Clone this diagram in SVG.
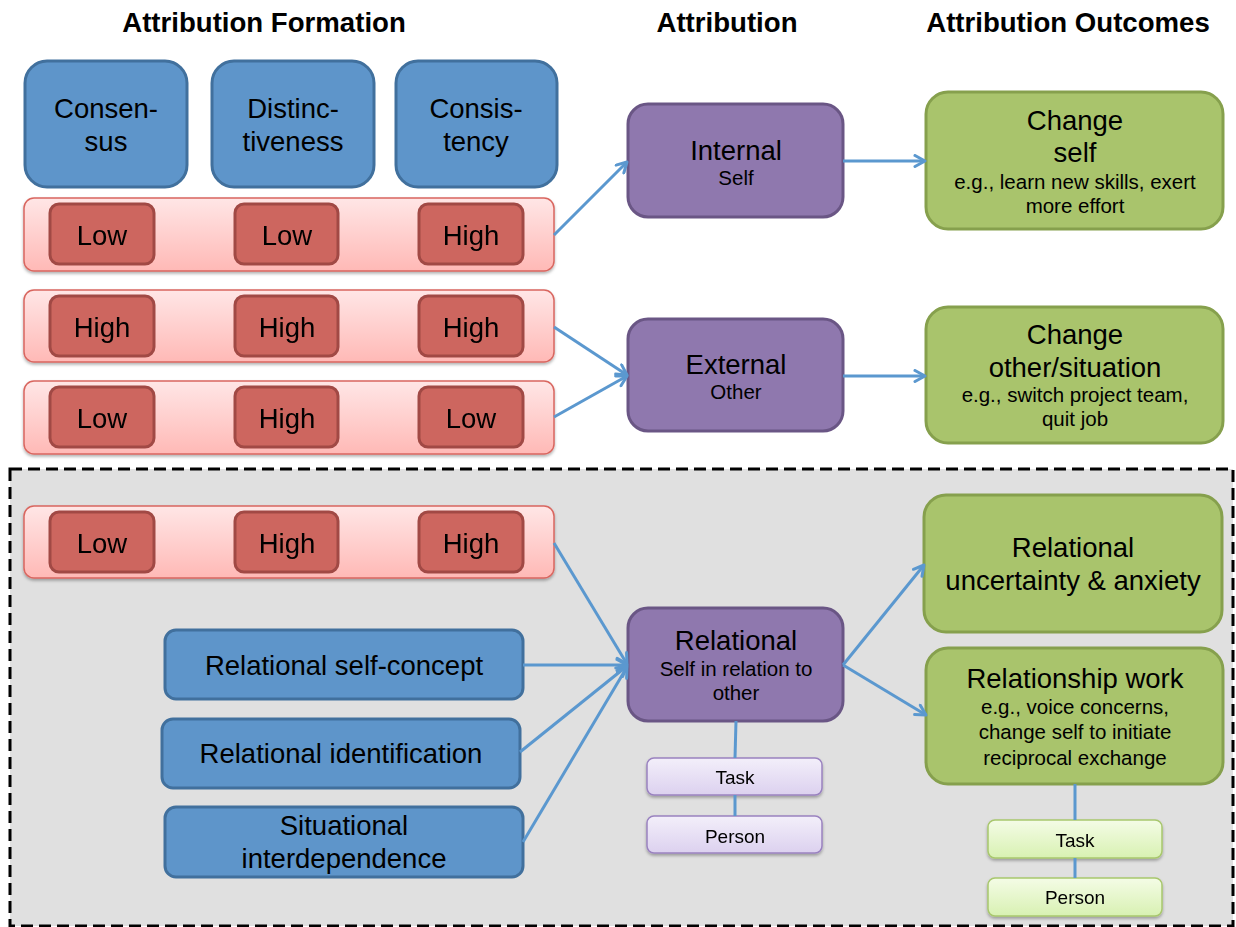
<svg xmlns="http://www.w3.org/2000/svg" width="1236" height="927" viewBox="0 0 1236 927">
<defs>
<linearGradient id="gPink" x1="0" y1="0" x2="0" y2="1"><stop offset="0" stop-color="#ffe6e6"/><stop offset="1" stop-color="#ffb9b6"/></linearGradient>
<linearGradient id="gLav" x1="0" y1="0" x2="0" y2="1"><stop offset="0" stop-color="#f3effa"/><stop offset="1" stop-color="#dcd1ef"/></linearGradient>
<linearGradient id="gLime" x1="0" y1="0" x2="0" y2="1"><stop offset="0" stop-color="#f4fce6"/><stop offset="1" stop-color="#d8f1b2"/></linearGradient>
<filter id="sh" x="-10%" y="-20%" width="120%" height="150%"><feDropShadow dx="0" dy="2" stdDeviation="1.5" flood-color="#000" flood-opacity="0.3"/></filter>
<marker id="arr" viewBox="0 0 14 14" refX="12" refY="7" markerWidth="14" markerHeight="14" markerUnits="userSpaceOnUse" orient="auto"><path d="M2,1.5 L12,7 L2,12.5" fill="none" stroke="#5b98cf" stroke-width="3" stroke-linecap="round" stroke-linejoin="round"/></marker>
</defs>
<style>
text{font-family:"Liberation Sans",Arial,sans-serif;fill:#000;text-anchor:middle}
.title{font-size:27.6px;font-weight:bold}
.big{font-size:27.5px}
.sm{font-size:20.5px}
.xs{font-size:19px}
.blue{fill:#5e95ca;stroke:#41709d;stroke-width:3}
.purple{fill:#8f78ae;stroke:#6a5685;stroke-width:3}
.green{fill:#a9c46c;stroke:#86a04d;stroke-width:3}
.red{fill:#cd665f;stroke:#a14a44;stroke-width:3}
.bar{fill:url(#gPink);stroke:#d9665f;stroke-width:1.5}
.lav{fill:url(#gLav);stroke:#9a82c0;stroke-width:1.5}
.lime{fill:url(#gLime);stroke:#a8c76d;stroke-width:1.5}
.c{fill:none;stroke:#5b98cf;stroke-width:3}
</style>
<rect width="1236" height="927" fill="#fff"/>
<rect id="relational-panel" x="10" y="469" width="1223" height="457" fill="#e0e0e0" stroke="#000" stroke-width="3" stroke-dasharray="12,6"/>

<g id="titles">
<text class="title" x="264" y="32">Attribution Formation</text>
<text class="title" x="727" y="32">Attribution</text>
<text class="title" x="1068" y="32">Attribution Outcomes</text>
</g>

<g id="consensus"><rect class="blue" x="25" y="61" width="162" height="126" rx="22"/><text class="big" x="106" y="118">Consen-</text><text class="big" x="106" y="151">sus</text></g>
<g id="distinctiveness"><rect class="blue" x="212" y="61" width="162" height="126" rx="22"/><text class="big" x="293" y="118">Distinc-</text><text class="big" x="293" y="151">tiveness</text></g>
<g id="consistency"><rect class="blue" x="396" y="61" width="161" height="126" rx="22"/><text class="big" x="476" y="118">Consis-</text><text class="big" x="476" y="151">tency</text></g>

<g id="row1" filter="url(#sh)"><rect class="bar" x="24" y="198" width="530" height="73" rx="10"/>
<rect class="red" x="50" y="204" width="104" height="60" rx="9"/><text class="big" x="102" y="245">Low</text>
<rect class="red" x="235" y="204" width="103" height="60" rx="9"/><text class="big" x="287" y="245">Low</text>
<rect class="red" x="419" y="204" width="104" height="60" rx="9"/><text class="big" x="471" y="245">High</text></g>

<g id="row2" filter="url(#sh)"><rect class="bar" x="24" y="290" width="530" height="72" rx="10"/>
<rect class="red" x="50" y="296" width="104" height="60" rx="9"/><text class="big" x="102" y="337">High</text>
<rect class="red" x="235" y="296" width="103" height="60" rx="9"/><text class="big" x="287" y="337">High</text>
<rect class="red" x="419" y="296" width="104" height="60" rx="9"/><text class="big" x="471" y="337">High</text></g>

<g id="row3" filter="url(#sh)"><rect class="bar" x="24" y="381" width="530" height="73" rx="10"/>
<rect class="red" x="50" y="387" width="104" height="60" rx="9"/><text class="big" x="102" y="428">Low</text>
<rect class="red" x="235" y="387" width="103" height="60" rx="9"/><text class="big" x="287" y="428">High</text>
<rect class="red" x="419" y="387" width="104" height="60" rx="9"/><text class="big" x="471" y="428">Low</text></g>

<g id="row4" filter="url(#sh)"><rect class="bar" x="24" y="506" width="530" height="72" rx="10"/>
<rect class="red" x="50" y="512" width="104" height="60" rx="9"/><text class="big" x="102" y="553">Low</text>
<rect class="red" x="235" y="512" width="103" height="60" rx="9"/><text class="big" x="287" y="553">High</text>
<rect class="red" x="419" y="512" width="104" height="60" rx="9"/><text class="big" x="471" y="553">High</text></g>

<g id="relational-self-concept"><rect class="blue" x="165" y="630" width="358" height="69" rx="11"/><text class="big" x="344" y="675">Relational self-concept</text></g>
<g id="relational-identification"><rect class="blue" x="162" y="719" width="358" height="69" rx="11"/><text class="big" x="341" y="763">Relational identification</text></g>
<g id="situational-interdependence"><rect class="blue" x="165" y="807" width="358" height="70" rx="11"/><text class="big" x="344" y="835">Situational</text><text class="big" x="344" y="868">interdependence</text></g>

<g id="internal"><rect class="purple" x="628" y="104" width="215" height="113" rx="20"/><text class="big" x="736" y="160">Internal</text><text class="sm" x="736" y="185">Self</text></g>
<g id="external"><rect class="purple" x="628" y="319" width="215" height="112" rx="20"/><text class="big" x="736" y="374">External</text><text class="sm" x="736" y="399">Other</text></g>
<g id="relational"><rect class="purple" x="628" y="608" width="215" height="113" rx="20"/><text class="big" x="736" y="650">Relational</text><text class="sm" x="736" y="676">Self in relation to</text><text class="sm" x="736" y="700">other</text></g>

<g id="task-purple" filter="url(#sh)"><rect class="lav" x="647" y="758" width="175" height="37" rx="7"/><text class="xs" x="735" y="784">Task</text></g>
<g id="person-purple" filter="url(#sh)"><rect class="lav" x="647" y="816" width="175" height="37" rx="7"/><text class="xs" x="735" y="843">Person</text></g>

<g id="change-self"><rect class="green" x="926" y="92" width="297" height="137" rx="22"/><text class="big" x="1075" y="130">Change</text><text class="big" x="1075" y="162">self</text><text class="sm" x="1075" y="189">e.g., learn new skills, exert</text><text class="sm" x="1075" y="213">more effort</text></g>
<g id="change-other"><rect class="green" x="926" y="307" width="297" height="136" rx="22"/><text class="big" x="1075" y="344">Change</text><text class="big" x="1075" y="377">other/situation</text><text class="sm" x="1075" y="402">e.g., switch project team,</text><text class="sm" x="1075" y="426">quit job</text></g>
<g id="relational-uncertainty"><rect class="green" x="924" y="495" width="298" height="137" rx="22"/><text class="big" x="1073" y="557">Relational</text><text class="big" x="1073" y="590">uncertainty &amp; anxiety</text></g>
<g id="relationship-work"><rect class="green" x="926" y="648" width="297" height="136" rx="22"/><text class="big" x="1075" y="688">Relationship work</text><text class="sm" x="1075" y="714">e.g., voice concerns,</text><text class="sm" x="1075" y="739">change self to initiate</text><text class="sm" x="1075" y="765">reciprocal exchange</text></g>

<g id="task-green" filter="url(#sh)"><rect class="lime" x="988" y="820" width="174" height="38" rx="7"/><text class="xs" x="1075" y="847">Task</text></g>
<g id="person-green" filter="url(#sh)"><rect class="lime" x="988" y="878" width="174" height="38" rx="7"/><text class="xs" x="1075" y="904">Person</text></g>

<g id="connectors">
<line class="c" x1="554" y1="235" x2="627" y2="162" marker-end="url(#arr)"/>
<line class="c" x1="843" y1="161" x2="925" y2="161" marker-end="url(#arr)"/>
<line class="c" x1="554" y1="327" x2="627" y2="375" marker-end="url(#arr)"/>
<line class="c" x1="554" y1="417" x2="627" y2="376" marker-end="url(#arr)"/>
<line class="c" x1="843" y1="376" x2="925" y2="376" marker-end="url(#arr)"/>
<line class="c" x1="554" y1="543" x2="627" y2="664" marker-end="url(#arr)"/>
<line class="c" x1="523" y1="665" x2="627" y2="665" marker-end="url(#arr)"/>
<line class="c" x1="520" y1="752" x2="627" y2="666" marker-end="url(#arr)"/>
<line class="c" x1="523" y1="842" x2="627" y2="667" marker-end="url(#arr)"/>
<line class="c" x1="843" y1="665" x2="924" y2="565" marker-end="url(#arr)"/>
<line class="c" x1="843" y1="665" x2="926" y2="715" marker-end="url(#arr)"/>
<line class="c" x1="736" y1="721" x2="735" y2="758"/>
<line class="c" x1="735" y1="795" x2="735" y2="816"/>
<line class="c" x1="1075" y1="784" x2="1075" y2="820"/>
<line class="c" x1="1075" y1="858" x2="1075" y2="878"/>
</g>
</svg>
